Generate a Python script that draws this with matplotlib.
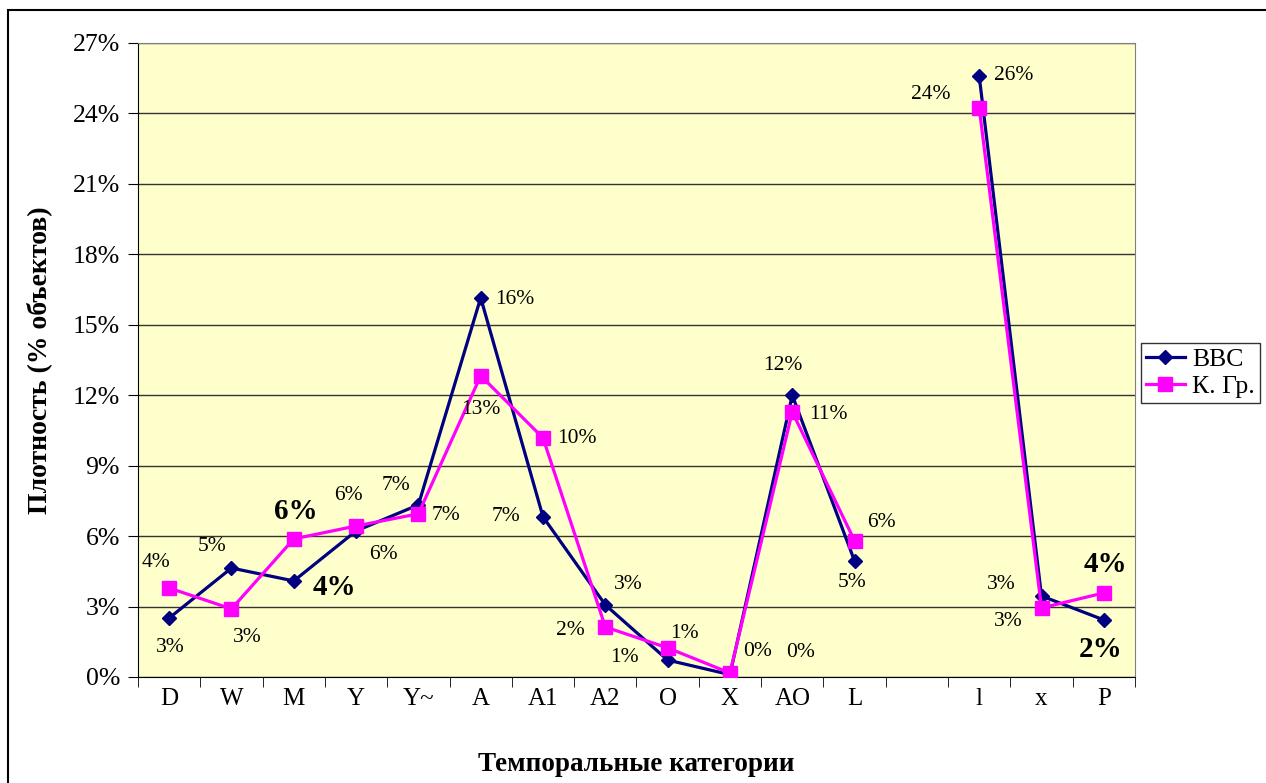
import numpy as np
import matplotlib.pyplot as plt
from matplotlib.patches import Rectangle
from matplotlib.ticker import FuncFormatter, MultipleLocator

# categories (the empty one makes the gap between L and l)
categories = ['D', 'W', 'M', 'Y', 'Y~', 'A', 'A1', 'A2', 'O', 'X', 'AO', 'L', '', 'l', 'x', 'P']

bbc = [0.0251, 0.0464, 0.0409, 0.0622, 0.0733, 0.1615, 0.0682, 0.0307,
       0.0072, 0.0010, 0.1200, 0.0494, np.nan, 0.2560, 0.0345, 0.0243]
kgr = [0.0379, 0.0290, 0.0588, 0.0643, 0.0695, 0.1283, 0.1018, 0.0213,
       0.0124, 0.0017, 0.1129, 0.0580, np.nan, 0.2425, 0.0294, 0.0358]

# label offsets in pixels (dx, dy), and which labels are bold
bbc_off = [(1, -29), (-19, 22), (41, -7), (27, -24), (-22, 19), (34, -2), (-37, 0), (23, 20),
           (-43, 3), (28, 23), (-9, 30), (-3, -22), None, (34, 0), (-40, 11), (-3, -30)]
kgr_off = [(-13, 25), (16, -29), (2, 27), (-8, 30), (28, -2), (0, -34), (34, -1), (-35, -4),
           (17, 14), (71, 20), (36, -3), (27, 18), None, (-48, 13), (-33, -14), (2, 28)]
bold_idx = [2, 15]

plt.rcParams['font.family'] = ['Liberation Serif', 'DejaVu Serif']

fig = plt.figure(figsize=(12.66, 7.83), dpi=100)
ax = fig.add_axes([0.109, 0.1354, 0.7875, 0.8097])
ax.set_facecolor('#FFFFCC')

# outer chart border
fig.patches.append(Rectangle((8 / 1266, -0.05), 1.1, (783 - 10) / 783 + 0.05,
                             transform=fig.transFigure, fill=False,
                             edgecolor='black', linewidth=1.5))

x = np.arange(len(categories))
ax.plot(x, bbc, color='#000080', linewidth=2.3, marker='D', markersize=7.5,
        label='BBC', zorder=3)
ax.plot(x, kgr, color='#FF00FF', linewidth=2.3, marker='s', markersize=10,
        label='К. Гр.', zorder=3)

for series, offs in ((bbc, bbc_off), (kgr, kgr_off)):
    for i, (v, off) in enumerate(zip(series, offs)):
        if off is None or np.isnan(v):
            continue
        bold = i in bold_idx
        ax.annotate(f'{v:.0%}', (i, v), xytext=off, textcoords='offset pixels',
                    ha='center', va='center',
                    fontsize=21 if bold else 15.5,
                    fontweight='bold' if bold else 'normal', zorder=4)

ax.set_xlim(-0.5, len(categories) - 0.5)
ax.set_ylim(0, 0.27)
ax.yaxis.set_major_locator(MultipleLocator(0.03))
ax.yaxis.set_major_formatter(FuncFormatter(lambda v, p: f'{v:.0%}'))
ax.grid(axis='y', color='#333333', linewidth=1)
ax.set_axisbelow(True)

ax.set_xticks(x)
ax.set_xticklabels(categories)
ax.set_xticks(np.arange(-0.5, len(categories)), minor=True)
ax.tick_params(axis='x', which='major', length=0, pad=8, labelsize=18)
ax.tick_params(axis='x', which='minor', length=7, direction='out', color='black')
ax.tick_params(axis='y', length=7, direction='out', pad=6, labelsize=18.5)

for s in ('top', 'right'):
    ax.spines[s].set_color('#808080')
ax.spines['left'].set_color('black')
ax.spines['bottom'].set_color('black')

ax.set_xlabel('Темпоральные категории', fontsize=19.5, fontweight='bold', labelpad=30)
ax.set_ylabel('Плотность (% объектов)', fontsize=20, fontweight='bold', labelpad=15)

leg = fig.legend(loc='upper left', bbox_to_anchor=(1141 / 1266, 1 - 343 / 783),
                 fontsize=18.5, frameon=True, fancybox=False, borderpad=0.2,
                 handlelength=1.5, labelspacing=0.15, handletextpad=0.3,
                 borderaxespad=0)
leg.get_frame().set_edgecolor('black')
leg.get_frame().set_linewidth(1)

fig.savefig('out.png', dpi=100)
